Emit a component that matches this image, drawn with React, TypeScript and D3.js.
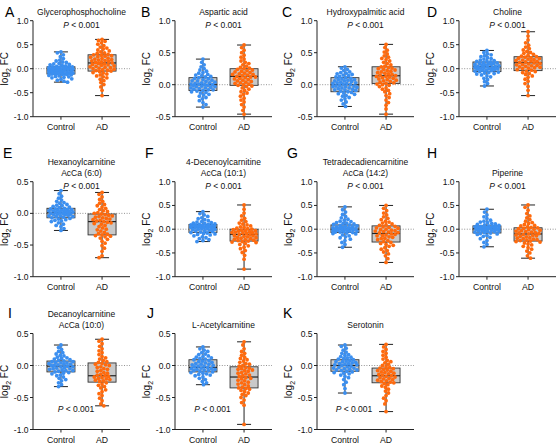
import React from "react";
import * as d3 from "d3";

const panelLetters = ["A", "B", "C", "D", "E", "F", "G", "H", "I", "J", "K"];
const panelTitles: string[][] = [
  ["Glycerophosphocholine"],
  ["Aspartic acid"],
  ["Hydroxypalmitic acid"],
  ["Choline"],
  ["Hexanoylcarnitine", "AcCa (6:0)"],
  ["4-Decenoylcarnitine", "AcCa (10:1)"],
  ["Tetradecadiencarnitine", "AcCa (14:2)"],
  ["Piperine"],
  ["Decanoylcarnitine", "AcCa (10:0)"],
  ["L-Acetylcarnitine"],
  ["Serotonin"],
];
const pValueText = "< 0.001";
const pAtBottom = [false, false, false, false, false, false, false, false, true, true, true];
const categories = ["Control", "AD"];
const yDomains: [number, number][] = [
  [-1, 1], [-0.5, 1], [-0.5, 1], [-1, 1],
  [-1, 0.5], [-1, 1], [-1, 1], [-1, 1],
  [-1, 0.5], [-1, 0.5], [-1, 0.5],
];
const ticksFull = [-1, -0.5, 0, 0.5, 1];
const ticksUpper = [-0.5, 0, 0.5, 1];
const ticksLower = [-1, -0.5, 0, 0.5];
const yTicks = [
  ticksFull, ticksUpper, ticksUpper, ticksFull,
  ticksLower, ticksFull, ticksFull, ticksFull,
  ticksLower, ticksLower, ticksLower,
];

// [min, q1, median, q3, max]
const controlStats = [
  [-0.28, -0.11, -0.03, 0.04, 0.35],
  [-0.35, -0.09, 0.0, 0.11, 0.40],
  [-0.34, -0.11, 0.0, 0.11, 0.28],
  [-0.36, -0.06, 0.04, 0.14, 0.38],
  [-0.27, -0.07, 0.01, 0.08, 0.36],
  [-0.26, -0.07, 0.04, 0.10, 0.37],
  [-0.38, -0.07, 0.0, 0.09, 0.47],
  [-0.37, -0.08, 0.01, 0.07, 0.42],
  [-0.33, -0.10, -0.01, 0.07, 0.32],
  [-0.30, -0.10, -0.03, 0.09, 0.29],
  [-0.43, -0.09, 0.0, 0.09, 0.32],
];
const adStats = [
  [-0.56, -0.05, 0.12, 0.29, 0.61],
  [-0.46, -0.01, 0.13, 0.25, 0.62],
  [-0.46, 0.02, 0.14, 0.28, 0.63],
  [-0.56, -0.04, 0.125, 0.25, 0.77],
  [-0.70, -0.34, -0.13, -0.01, 0.33],
  [-0.84, -0.25, -0.11, 0.0, 0.51],
  [-0.70, -0.27, -0.09, 0.07, 0.50],
  [-0.61, -0.25, -0.10, 0.03, 0.51],
  [-0.63, -0.26, -0.16, 0.04, 0.41],
  [-0.92, -0.35, -0.18, -0.02, 0.37],
  [-0.72, -0.27, -0.16, -0.04, 0.33],
];

const controlValues: number[][] = [
  [-0.28, -0.26, -0.24, -0.22, -0.21, -0.19, -0.18, -0.17, -0.16, -0.15, -0.14, -0.13, -0.12, -0.12, -0.11,
   -0.11, -0.10, -0.10, -0.09, -0.09, -0.08, -0.08, -0.07, -0.06, -0.06, -0.05, -0.05, -0.04, -0.04, -0.03,
   -0.03, -0.02, -0.02, -0.01, -0.01, 0.00, 0.00, 0.01, 0.01, 0.02, 0.02, 0.03, 0.03, 0.04, 0.04,
   0.05, 0.06, 0.07, 0.08, 0.09, 0.10, 0.11, 0.13, 0.14, 0.16, 0.18, 0.21, 0.25, 0.29, 0.33, 0.35],
  [-0.35, -0.31, -0.28, -0.25, -0.22, -0.2, -0.18, -0.16, -0.15, -0.13, -0.12, -0.11, -0.1, -0.09,
   -0.08, -0.08, -0.07, -0.06, -0.05, -0.05, -0.04, -0.03, -0.03, -0.02, -0.01, -0.01, 0.0, 0.0,
   0.01, 0.01, 0.02, 0.03, 0.03, 0.04, 0.05, 0.06, 0.06, 0.07, 0.08, 0.09, 0.1, 0.11,
   0.12, 0.13, 0.14, 0.15, 0.16, 0.18, 0.19, 0.21, 0.23, 0.25, 0.28, 0.31, 0.35, 0.4],
  [-0.34, -0.3, -0.27, -0.24, -0.22, -0.2, -0.18, -0.17, -0.15, -0.14, -0.13, -0.12, -0.11,
   -0.1, -0.09, -0.08, -0.08, -0.07, -0.06, -0.05, -0.05, -0.04, -0.03, -0.03, -0.02, -0.02, -0.01, 0.0,
   0.01, 0.02, 0.02, 0.03, 0.03, 0.04, 0.05, 0.06, 0.06, 0.07, 0.08, 0.08, 0.09, 0.1, 0.11,
   0.12, 0.13, 0.14, 0.15, 0.16, 0.17, 0.18, 0.19, 0.2, 0.22, 0.24, 0.26, 0.28],
  [-0.36, -0.31, -0.27, -0.23, -0.2, -0.17, -0.15, -0.13, -0.11, -0.1, -0.09, -0.08, -0.07, -0.06,
   -0.05, -0.04, -0.03, -0.03, -0.02, -0.01, 0.0, 0.0, 0.01, 0.02, 0.02, 0.03, 0.04,
   0.05, 0.05, 0.06, 0.07, 0.08, 0.08, 0.09, 0.1, 0.11, 0.11, 0.12, 0.13, 0.14,
   0.15, 0.16, 0.17, 0.18, 0.2, 0.21, 0.23, 0.25, 0.27, 0.29, 0.31, 0.34, 0.38],
  [-0.27, -0.24, -0.21, -0.19, -0.17, -0.15, -0.13, -0.12, -0.11, -0.1, -0.09, -0.08, -0.07,
   -0.06, -0.05, -0.05, -0.04, -0.04, -0.03, -0.02, -0.02, -0.01, -0.01, 0.0, 0.0, 0.01, 0.01,
   0.02, 0.02, 0.03, 0.03, 0.04, 0.04, 0.05, 0.05, 0.06, 0.06, 0.07, 0.07, 0.08,
   0.09, 0.1, 0.11, 0.12, 0.13, 0.14, 0.16, 0.17, 0.19, 0.21, 0.24, 0.27, 0.31, 0.36],
  [-0.26, -0.24, -0.22, -0.2, -0.18, -0.16, -0.14, -0.12, -0.11, -0.1, -0.09, -0.08, -0.07,
   -0.06, -0.05, -0.04, -0.03, -0.02, -0.01, 0.0, 0.0, 0.01, 0.02, 0.02, 0.03, 0.04,
   0.04, 0.05, 0.05, 0.06, 0.06, 0.07, 0.07, 0.08, 0.08, 0.09, 0.09, 0.1, 0.1,
   0.11, 0.12, 0.13, 0.14, 0.15, 0.16, 0.18, 0.2, 0.22, 0.24, 0.27, 0.3, 0.33, 0.37],
  [-0.38, -0.32, -0.28, -0.24, -0.21, -0.18, -0.16, -0.14, -0.12, -0.1, -0.09, -0.08, -0.07,
   -0.06, -0.06, -0.05, -0.04, -0.04, -0.03, -0.02, -0.02, -0.01, -0.01, 0.0, 0.0,
   0.01, 0.01, 0.02, 0.03, 0.03, 0.04, 0.05, 0.05, 0.06, 0.07, 0.08, 0.09,
   0.1, 0.11, 0.12, 0.13, 0.14, 0.16, 0.17, 0.19, 0.21, 0.24, 0.27, 0.31, 0.36, 0.41, 0.47],
  [-0.37, -0.32, -0.28, -0.24, -0.2, -0.17, -0.15, -0.13, -0.11, -0.1, -0.09, -0.08,
   -0.07, -0.06, -0.05, -0.05, -0.04, -0.03, -0.03, -0.02, -0.01, 0.0, 0.0, 0.01,
   0.01, 0.02, 0.02, 0.03, 0.03, 0.04, 0.04, 0.05, 0.05, 0.06, 0.06, 0.07,
   0.08, 0.09, 0.1, 0.11, 0.12, 0.14, 0.15, 0.17, 0.19, 0.22, 0.26, 0.3, 0.36, 0.42],
  [-0.33, -0.3, -0.27, -0.24, -0.22, -0.2, -0.18, -0.16, -0.15, -0.13, -0.12, -0.11, -0.1,
   -0.09, -0.08, -0.08, -0.07, -0.06, -0.05, -0.05, -0.04, -0.03, -0.02, -0.02, -0.01,
   0.0, 0.0, 0.01, 0.02, 0.02, 0.03, 0.04, 0.04, 0.05, 0.06, 0.06, 0.07,
   0.08, 0.09, 0.1, 0.11, 0.12, 0.13, 0.15, 0.16, 0.18, 0.2, 0.22, 0.25, 0.28, 0.32],
  [-0.3, -0.27, -0.25, -0.22, -0.2, -0.18, -0.16, -0.15, -0.14, -0.13, -0.12, -0.11, -0.1,
   -0.09, -0.08, -0.08, -0.07, -0.06, -0.06, -0.05, -0.05, -0.04, -0.03,
   -0.02, -0.01, -0.01, 0.0, 0.01, 0.02, 0.02, 0.03, 0.04, 0.05, 0.06, 0.07, 0.08, 0.09,
   0.1, 0.11, 0.12, 0.13, 0.14, 0.15, 0.17, 0.18, 0.2, 0.22, 0.24, 0.26, 0.29],
  [-0.43, -0.36, -0.3, -0.26, -0.22, -0.19, -0.17, -0.15, -0.13, -0.12, -0.11, -0.1, -0.09,
   -0.08, -0.07, -0.07, -0.06, -0.05, -0.04, -0.04, -0.03, -0.02, -0.01, 0.0,
   0.01, 0.01, 0.02, 0.03, 0.03, 0.04, 0.05, 0.06, 0.06, 0.07, 0.08, 0.09,
   0.1, 0.11, 0.12, 0.13, 0.14, 0.16, 0.17, 0.19, 0.21, 0.24, 0.27, 0.3, 0.32],
];

const adValues: number[][] = [
  [-0.56, -0.45, -0.38, -0.33, -0.29, -0.25, -0.22, -0.19, -0.17, -0.15, -0.13, -0.11, -0.09, -0.08, -0.06, -0.05,
   -0.04, -0.03, -0.02, -0.01, 0.00, 0.01, 0.02, 0.03, 0.04, 0.05, 0.06, 0.07, 0.08, 0.09, 0.10, 0.11,
   0.12, 0.13, 0.14, 0.15, 0.16, 0.17, 0.18, 0.19, 0.20, 0.21, 0.22, 0.24, 0.25, 0.26, 0.27, 0.28,
   0.29, 0.30, 0.32, 0.33, 0.35, 0.37, 0.39, 0.41, 0.43, 0.45, 0.48, 0.51, 0.54, 0.57, 0.59, 0.61],
  [-0.46, -0.4, -0.35, -0.31, -0.27, -0.24, -0.21, -0.18, -0.15, -0.13, -0.11, -0.09, -0.07, -0.05, -0.03, -0.02,
   -0.01, 0.0, 0.01, 0.02, 0.03, 0.04, 0.05, 0.06, 0.07, 0.08, 0.09, 0.1, 0.11, 0.12, 0.12,
   0.13, 0.14, 0.15, 0.16, 0.16, 0.17, 0.18, 0.19, 0.2, 0.21, 0.22, 0.23, 0.24, 0.25,
   0.26, 0.27, 0.29, 0.31, 0.33, 0.35, 0.37, 0.4, 0.43, 0.46, 0.5, 0.54, 0.58, 0.62],
  [-0.46, -0.38, -0.32, -0.28, -0.24, -0.2, -0.17, -0.14, -0.11, -0.09, -0.07, -0.05, -0.03, -0.01, 0.0, 0.01,
   0.02, 0.03, 0.04, 0.05, 0.06, 0.07, 0.08, 0.09, 0.1, 0.11, 0.12, 0.13, 0.13, 0.14,
   0.15, 0.16, 0.17, 0.18, 0.19, 0.2, 0.21, 0.22, 0.23, 0.24, 0.25, 0.26, 0.27, 0.28,
   0.29, 0.31, 0.33, 0.35, 0.37, 0.39, 0.41, 0.43, 0.45, 0.48, 0.51, 0.54, 0.58, 0.63],
  [-0.56, -0.45, -0.37, -0.31, -0.26, -0.22, -0.18, -0.15, -0.12, -0.1, -0.08, -0.06, -0.05,
   -0.03, -0.02, 0.0, 0.01, 0.02, 0.03, 0.04, 0.05, 0.06, 0.07, 0.08, 0.09, 0.1, 0.11, 0.12,
   0.13, 0.14, 0.15, 0.16, 0.17, 0.18, 0.19, 0.2, 0.21, 0.22, 0.23, 0.24, 0.25,
   0.26, 0.28, 0.3, 0.32, 0.34, 0.36, 0.39, 0.42, 0.45, 0.49, 0.54, 0.6, 0.68, 0.77],
  [-0.7, -0.67, -0.6, -0.55, -0.51, -0.47, -0.44, -0.41, -0.39, -0.37, -0.36, -0.35, -0.34,
   -0.33, -0.32, -0.3, -0.28, -0.26, -0.25, -0.23, -0.21, -0.19, -0.17, -0.16, -0.15, -0.14,
   -0.13, -0.12, -0.11, -0.1, -0.09, -0.08, -0.07, -0.06, -0.05, -0.04, -0.03, -0.02, -0.01,
   0.0, 0.01, 0.03, 0.04, 0.06, 0.08, 0.1, 0.12, 0.14, 0.16, 0.19, 0.22, 0.26, 0.3, 0.33],
  [-0.84, -0.63, -0.55, -0.49, -0.45, -0.41, -0.38, -0.35, -0.32, -0.3, -0.28, -0.27, -0.26, -0.25,
   -0.24, -0.23, -0.22, -0.21, -0.2, -0.19, -0.18, -0.17, -0.16, -0.15, -0.14, -0.13, -0.12, -0.11,
   -0.1, -0.09, -0.08, -0.07, -0.07, -0.06, -0.05, -0.04, -0.03, -0.03, -0.02, -0.01, 0.0,
   0.01, 0.02, 0.04, 0.05, 0.07, 0.09, 0.11, 0.13, 0.16, 0.19, 0.23, 0.28, 0.34, 0.42, 0.51],
  [-0.7, -0.62, -0.56, -0.52, -0.48, -0.45, -0.42, -0.39, -0.36, -0.34, -0.32, -0.3, -0.28,
   -0.26, -0.24, -0.22, -0.2, -0.19, -0.17, -0.16, -0.14, -0.13, -0.12, -0.11, -0.1,
   -0.08, -0.07, -0.06, -0.05, -0.04, -0.03, -0.02, -0.01, 0.0, 0.02, 0.03, 0.04, 0.05, 0.06,
   0.08, 0.09, 0.11, 0.13, 0.15, 0.17, 0.2, 0.23, 0.26, 0.3, 0.34, 0.39, 0.44, 0.5],
  [-0.61, -0.56, -0.5, -0.46, -0.42, -0.39, -0.36, -0.33, -0.31, -0.29, -0.27, -0.26, -0.25,
   -0.24, -0.23, -0.22, -0.21, -0.2, -0.19, -0.18, -0.16, -0.15, -0.14, -0.13, -0.12, -0.11,
   -0.1, -0.09, -0.08, -0.07, -0.06, -0.05, -0.04, -0.03, -0.02, -0.01, 0.0, 0.01, 0.02, 0.03,
   0.04, 0.05, 0.07, 0.08, 0.1, 0.12, 0.14, 0.17, 0.2, 0.24, 0.28, 0.33, 0.4, 0.46, 0.51],
  [-0.63, -0.6, -0.55, -0.51, -0.47, -0.44, -0.41, -0.38, -0.35, -0.33, -0.31, -0.29, -0.27,
   -0.25, -0.24, -0.23, -0.22, -0.21, -0.2, -0.19, -0.18, -0.17, -0.16,
   -0.15, -0.14, -0.12, -0.11, -0.09, -0.08, -0.06, -0.05, -0.03, -0.02, 0.0, 0.01, 0.02, 0.03,
   0.05, 0.06, 0.08, 0.1, 0.12, 0.14, 0.17, 0.2, 0.23, 0.26, 0.3, 0.34, 0.38, 0.41],
  [-0.92, -0.62, -0.58, -0.54, -0.5, -0.47, -0.45, -0.43, -0.41, -0.39, -0.37, -0.36, -0.35,
   -0.34, -0.32, -0.3, -0.29, -0.27, -0.26, -0.24, -0.23, -0.21, -0.2, -0.19,
   -0.17, -0.16, -0.15, -0.13, -0.12, -0.11, -0.09, -0.08, -0.07, -0.06, -0.05, -0.04, -0.03,
   -0.01, 0.0, 0.02, 0.03, 0.05, 0.07, 0.09, 0.11, 0.13, 0.16, 0.19, 0.22, 0.26, 0.32, 0.37],
  [-0.72, -0.6, -0.55, -0.51, -0.47, -0.43, -0.4, -0.37, -0.34, -0.32, -0.3, -0.28,
   -0.27, -0.26, -0.25, -0.24, -0.23, -0.22, -0.21, -0.2, -0.19, -0.18, -0.17, -0.16,
   -0.15, -0.14, -0.13, -0.12, -0.11, -0.1, -0.09, -0.08, -0.07, -0.06, -0.05, -0.04,
   -0.03, -0.02, 0.0, 0.02, 0.04, 0.06, 0.08, 0.1, 0.13, 0.16, 0.19, 0.22, 0.25, 0.29, 0.33],
];

// ---------- layout ----------
const W = 558;
const H = 445;
const COL_X = [33, 175, 317, 459];
const ROW_TOP = [20.7, 181.7, 333.5];
const ROW_BOTTOM = [116.7, 276.7, 429.5];
const PLOT_W = 97;
const LETTER_POS: [number, number][] = [
  [5, 17], [141, 17], [282, 17], [427, 17],
  [3, 158], [145, 158], [287, 158], [427, 158],
  [8, 318], [147, 318], [283, 318],
];
const P_BOTTOM_DX = [43, 37.5, 37];
const FONT = "Arial, 'Liberation Sans', Helvetica, sans-serif";
const BLUE = "#3b8ff0";
const ORANGE = "#ff6a0d";
const BOX_FILL = "#c9c9c9";
const INK = "#222";
const R = 1.9;
const BOX_HALF = 14;
const CAP_HALF = 7;

type Pt = { v: number; y: number; x: number };

function swarm(values: number[], yScale: (v: number) => number): Pt[] {
  const pts: Pt[] = values.map((v) => ({ v, y: yScale(v), x: 0 }));
  pts.sort((a, b) => a.y - b.y);
  const minD = 3.4;
  const maxW = 12.5;
  const placed: Pt[] = [];
  pts.forEach((p, idx) => {
    const near = placed.filter((q) => Math.abs(q.y - p.y) < minD);
    const sign = idx % 2 === 0 ? 1 : -1;
    const cands = [0];
    for (let k = 1; k * 0.6 <= maxW; k++) cands.push(sign * k * 0.6, -sign * k * 0.6);
    let best = 0;
    let bestScore = -1;
    for (const c of cands) {
      let md = Infinity;
      for (const q of near) md = Math.min(md, Math.hypot(q.x - c, q.y - p.y));
      if (md >= minD) {
        best = c;
        bestScore = Infinity;
        break;
      }
      if (md > bestScore) {
        bestScore = md;
        best = c;
      }
    }
    p.x = best;
    placed.push(p);
  });
  return pts;
}

function BoxGroup({ cx, stats, values, y, color }: any) {
  const [mn, q1, med, q3, mx] = stats;
  const pts = swarm(values, y);
  return (
    <g>
      <line x1={cx} x2={cx} y1={y(mx)} y2={y(q3)} stroke={INK} strokeWidth={1} />
      <line x1={cx} x2={cx} y1={y(q1)} y2={y(mn)} stroke={INK} strokeWidth={1} />
      <line x1={cx - CAP_HALF} x2={cx + CAP_HALF} y1={y(mx)} y2={y(mx)} stroke={INK} strokeWidth={1} />
      <line x1={cx - CAP_HALF} x2={cx + CAP_HALF} y1={y(mn)} y2={y(mn)} stroke={INK} strokeWidth={1} />
      <rect x={cx - BOX_HALF} y={y(q3)} width={BOX_HALF * 2} height={y(q1) - y(q3)} fill={BOX_FILL} stroke="#333" strokeWidth={0.9} />
      <line x1={cx - BOX_HALF} x2={cx + BOX_HALF} y1={y(med)} y2={y(med)} stroke={INK} strokeWidth={1.2} />
      {pts.map((p, k) => (
        <circle key={k} cx={cx + p.x} cy={p.y} r={R} fill={color} />
      ))}
    </g>
  );
}

function Panel({ i }: { i: number }) {
  const col = i % 4;
  const row = Math.floor(i / 4);
  const x0 = COL_X[col];
  const top = ROW_TOP[row];
  const bottom = ROW_BOTTOM[row];
  const y = d3.scaleLinear().domain(yDomains[i]).range([bottom, top]);
  const x = d3.scalePoint<string>().domain(categories).range([x0, x0 + PLOT_W]).padding(0.68);
  const mid = ((x(categories[0]) as number) + (x(categories[1]) as number)) / 2;
  const titles = panelTitles[i];
  const [lx, ly] = LETTER_POS[i];
  const pX = pAtBottom[i] ? x0 + P_BOTTOM_DX[col] : mid;
  const pY = pAtBottom[i] ? bottom - 20.5 + 3 : top + 4.3 + 3;
  return (
    <g>
      <text x={lx} y={ly} fontSize={14} fontFamily={FONT} fill="#000">{panelLetters[i]}</text>
      {titles.map((t, k) => (
        <text key={k} x={mid} y={top - 9 - (titles.length - 1 - k) * 10.5 + 3} textAnchor="middle" fontSize={8.5} fontFamily={FONT} fill="#111">
          {t}
        </text>
      ))}
      <text x={pX} y={pY} textAnchor="middle" fontSize={8.5} fontFamily={FONT} fill="#111">
        <tspan fontStyle="italic">P</tspan>
        {" " + pValueText}
      </text>
      <line x1={x0} x2={x0 + PLOT_W} y1={y(0)} y2={y(0)} stroke="#777" strokeWidth={0.8} strokeDasharray="1,1.6" />
      <BoxGroup cx={x(categories[0])} stats={controlStats[i]} values={controlValues[i]} y={y} color={BLUE} />
      <BoxGroup cx={x(categories[1])} stats={adStats[i]} values={adValues[i]} y={y} color={ORANGE} />
      <line x1={x0} x2={x0} y1={top} y2={bottom} stroke={INK} strokeWidth={1} />
      {yTicks[i].map((t) => (
        <g key={t}>
          <line x1={x0 - 3} x2={x0} y1={y(t)} y2={y(t)} stroke={INK} strokeWidth={1} />
          <text x={x0 - 4.5} y={y(t) + 3} textAnchor="end" fontSize={8.5} fontFamily={FONT} fill="#111">
            {t.toFixed(1)}
          </text>
        </g>
      ))}
      <text transform={`translate(${x0 - 25},${(top + bottom) / 2}) rotate(-90)`} textAnchor="middle" fontSize={10} fontFamily={FONT} fill="#111">
        log<tspan fontSize={7} dy={2.5}>2</tspan>
        <tspan dy={-2.5}> FC</tspan>
      </text>
      <line x1={x0} x2={x0 + PLOT_W} y1={bottom} y2={bottom} stroke={INK} strokeWidth={1} />
      {categories.map((c) => (
        <g key={c}>
          <line x1={x(c)} x2={x(c)} y1={bottom} y2={bottom + 3} stroke={INK} strokeWidth={1} />
          <text x={x(c)} y={bottom + 13} textAnchor="middle" fontSize={8.7} fontFamily={FONT} fill="#111">
            {c}
          </text>
        </g>
      ))}
    </g>
  );
}

export default function App() {
  return (
    <svg width={W} height={H} viewBox={`0 0 ${W} ${H}`} style={{ position: "absolute", left: 0, top: 0, background: "#fff" }}>
      <rect width={W} height={H} fill="#fff" />
      {panelLetters.map((_, i) => (
        <Panel key={i} i={i} />
      ))}
    </svg>
  );
}
